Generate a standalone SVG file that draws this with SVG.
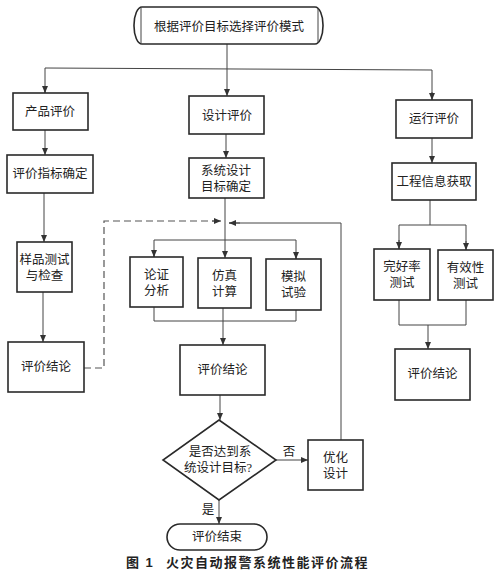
<svg xmlns="http://www.w3.org/2000/svg" width="504" height="576" viewBox="0 0 504 576">
<defs>
<marker id="ah" markerWidth="7" markerHeight="6" refX="7" refY="3" orient="auto" markerUnits="userSpaceOnUse">
<path d="M0,0 L7,3 L0,6 Z" fill="#333"/>
</marker>
<style>
.box{fill:#fff;stroke:#2a2a2a;stroke-width:1.6}
.ln{fill:none;stroke:#444;stroke-width:1}
.dash{fill:none;stroke:#555;stroke-width:1.2;stroke-dasharray:7,4}
.t{font-family:"Liberation Serif","Noto Sans CJK SC",serif;font-size:12.5px;fill:#222;text-anchor:middle}
.cap{font-family:"Liberation Sans","Noto Sans CJK SC",sans-serif;font-size:13px;font-weight:bold;fill:#222;letter-spacing:1.5px}
</style>
</defs>
<rect width="504" height="576" fill="#fff"/>
<g id="connectors">
<line class="ln" x1="227" y1="44" x2="227" y2="96" marker-end="url(#ah)"/>
<polyline class="ln" points="45,93 45,68 432,70 432,100" />
<line class="ln" x1="45" y1="86" x2="45" y2="93" marker-end="url(#ah)"/>
<line class="ln" x1="432" y1="92" x2="432" y2="100" marker-end="url(#ah)"/>
<line class="ln" x1="45" y1="130" x2="45" y2="155" marker-end="url(#ah)"/>
<line class="ln" x1="44" y1="193" x2="44" y2="242" marker-end="url(#ah)"/>
<line class="ln" x1="43" y1="292" x2="43" y2="342" marker-end="url(#ah)"/>
<line class="ln" x1="226" y1="134" x2="226" y2="158" marker-end="url(#ah)"/>
<line class="ln" x1="225" y1="198" x2="225" y2="258" marker-end="url(#ah)"/>
<polyline class="ln" points="154,257 154,240 296,240 296,259"/>
<line class="ln" x1="154" y1="250" x2="154" y2="257" marker-end="url(#ah)"/>
<line class="ln" x1="296" y1="252" x2="296" y2="259" marker-end="url(#ah)"/>
<polyline class="ln" points="154,307 154,321 296,321 296,310"/>
<line class="ln" x1="223" y1="308" x2="223" y2="345" marker-end="url(#ah)"/>
<line class="ln" x1="220" y1="395" x2="220" y2="420" marker-end="url(#ah)"/>
<line class="ln" x1="276" y1="460" x2="308" y2="460" marker-end="url(#ah)"/>
<polyline class="ln" points="341,440 341,223 229,223"/>
<line class="ln" x1="240" y1="223" x2="229" y2="223" marker-end="url(#ah)"/>
<polyline class="dash" points="84,368 104,368 104,221 214,221"/>
<line class="ln" x1="212" y1="221" x2="221" y2="221" marker-end="url(#ah)"/>
<line class="ln" x1="219" y1="500" x2="219" y2="524" marker-end="url(#ah)"/>
<line class="ln" x1="432" y1="138" x2="432" y2="163" marker-end="url(#ah)"/>
<polyline class="ln" points="430,200 430,225"/>
<polyline class="ln" points="399,249 399,225 466,225 466,250"/>
<line class="ln" x1="399" y1="240" x2="399" y2="249" marker-end="url(#ah)"/>
<line class="ln" x1="466" y1="241" x2="466" y2="250" marker-end="url(#ah)"/>
<polyline class="ln" points="399,300 399,325 466,325 466,300"/>
<line class="ln" x1="428" y1="325" x2="428" y2="349" marker-end="url(#ah)"/>
<text class="t" x="289" y="456">否</text>
<text class="t" x="208" y="514">是</text>
</g>
<g id="start">
<rect class="box" x="134" y="7" width="189" height="37" rx="8" ry="18"/>
<line class="ln" x1="141" y1="8" x2="141" y2="43"/>
<line class="ln" x1="318" y1="8" x2="318" y2="43"/>
<text class="t" x="229" y="31">根据评价目标选择评价模式</text>
</g>
<g id="p1"><rect class="box" x="13" y="93" width="75" height="37"/><text class="t" x="50" y="116">产品评价</text></g>
<g id="d1"><rect class="box" x="189" y="96" width="75" height="38"/><text class="t" x="227" y="120">设计评价</text></g>
<g id="r1"><rect class="box" x="396" y="100" width="76" height="38"/><text class="t" x="434" y="123">运行评价</text></g>
<g id="p2"><rect class="box" x="7" y="155" width="86" height="38"/><text class="t" x="50" y="178">评价指标确定</text></g>
<g id="d2"><rect class="box" x="189" y="158" width="75" height="40"/><text class="t" x="226" y="175">系统设计</text><text class="t" x="226" y="191">目标确定</text></g>
<g id="r2"><rect class="box" x="392" y="163" width="84" height="37"/><text class="t" x="434" y="186">工程信息获取</text></g>
<g id="p3"><rect class="box" x="17" y="242" width="55" height="50"/><text class="t" x="44.5" y="264">样品测试</text><text class="t" x="44.5" y="280">与检查</text></g>
<g id="p4"><rect class="box" x="8" y="342" width="76" height="50"/><text class="t" x="46" y="371">评价结论</text></g>
<g id="d3"><rect class="box" x="130" y="257" width="53" height="50"/><text class="t" x="156.5" y="279">论证</text><text class="t" x="156.5" y="295">分析</text></g>
<g id="d4"><rect class="box" x="198" y="258" width="53" height="50"/><text class="t" x="224.5" y="280">仿真</text><text class="t" x="224.5" y="296">计算</text></g>
<g id="d5"><rect class="box" x="266" y="259" width="55" height="51"/><text class="t" x="293.5" y="281">模拟</text><text class="t" x="293.5" y="297">试验</text></g>
<g id="d6"><rect class="box" x="180" y="345" width="85" height="50"/><text class="t" x="222.5" y="374">评价结论</text></g>
<g id="decision"><polygon class="box" points="219,420 276,460 219,500 163,460"/><text class="t" x="220" y="456">是否达到系</text><text class="t" x="218" y="472">统设计目标?</text></g>
<g id="opt"><rect class="box" x="308" y="440" width="55" height="50"/><text class="t" x="335.5" y="462">优化</text><text class="t" x="335.5" y="478">设计</text></g>
<g id="end"><rect class="box" x="167" y="524" width="100" height="26" rx="13"/><text class="t" x="217" y="541">评价结束</text></g>
<g id="r3"><rect class="box" x="374" y="249" width="56" height="51"/><text class="t" x="402" y="271">完好率</text><text class="t" x="402" y="287">测试</text></g>
<g id="r4"><rect class="box" x="438" y="250" width="55" height="50"/><text class="t" x="465.5" y="272">有效性</text><text class="t" x="465.5" y="288">测试</text></g>
<g id="r5"><rect class="box" x="395" y="349" width="75" height="51"/><text class="t" x="432.5" y="378">评价结论</text></g>
<text class="cap" x="126" y="567">图 1</text>
<text class="cap" x="166" y="567">火灾自动报警系统性能评价流程</text>
</svg>
